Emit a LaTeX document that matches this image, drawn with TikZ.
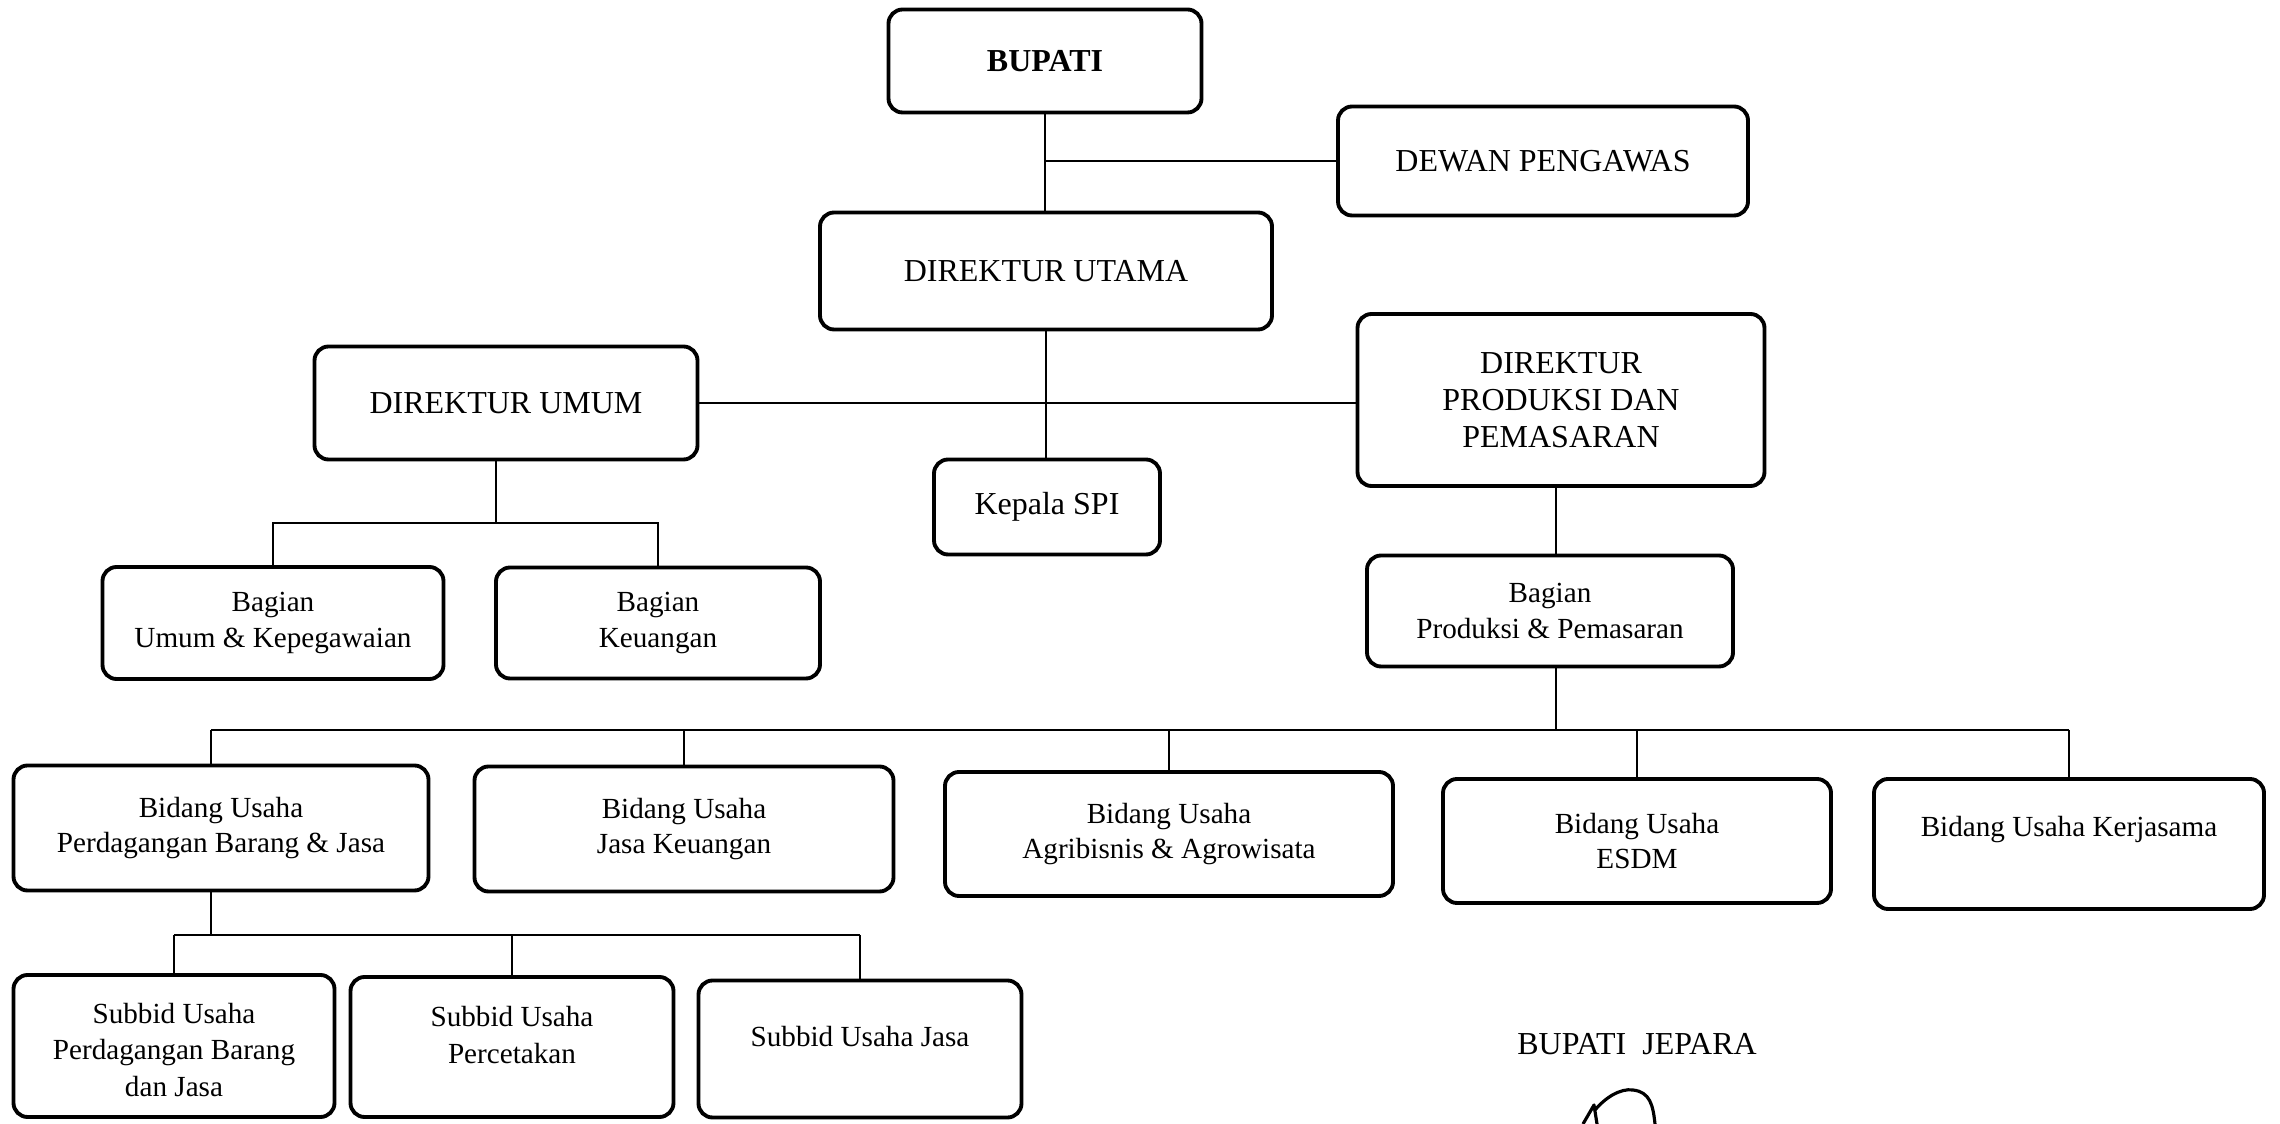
\documentclass[tikz,border=0pt]{standalone}
\usepackage{fontspec}
\setmainfont{Liberation Serif}
\begin{document}
\begin{tikzpicture}[
    box/.style={draw,line width=1.1pt,rounded corners=4pt,align=center,inner sep=2pt},
    big/.style={font=\fontsize{9.1}{10.6}\selectfont},
    small/.style={font=\fontsize{8.3}{10}\selectfont},
    subtext/.style={font=\fontsize{8.3}{10.5}\selectfont,align=center},
    link/.style={line width=0.6pt}]
    \useasboundingbox (0,0) rectangle (22.8,-11.24);
    \node[box,big,minimum width=3.13cm,minimum height=1.03cm] (bupati) at (10.45,-0.61) {\textbf{BUPATI}};
    \node[box,big,minimum width=4.10cm,minimum height=1.09cm] (dewan) at (15.43,-1.61) {DEWAN PENGAWAS};
    \node[box,big,minimum width=4.52cm,minimum height=1.17cm] (dirut) at (10.46,-2.71) {DIREKTUR UTAMA};
    \node[box,big,minimum width=3.83cm,minimum height=1.13cm] (dirumum) at (5.06,-4.03) {DIREKTUR UMUM};
    \node[box,big,minimum width=4.07cm,minimum height=1.72cm] (dirprod) at (15.61,-4.00) {DIREKTUR\\PRODUKSI DAN\\PEMASARAN};
    \node[box,big,minimum width=2.26cm,minimum height=0.95cm] (spi) at (10.47,-5.07) {Kepala SPI};
    \node[box,small,minimum width=3.41cm,minimum height=1.12cm] (bagumum) at (2.73,-6.23) {Bagian\\Umum \& Kepegawaian};
    \node[box,small,minimum width=3.24cm,minimum height=1.11cm] (bagkeu) at (6.58,-6.23) {Bagian\\Keuangan};
    \node[box,small,minimum width=3.66cm,minimum height=1.11cm] (bagprod) at (15.50,-6.11) {Bagian\\Produksi \& Pemasaran};
    \node[box,small,minimum width=4.15cm,minimum height=1.25cm] (bdagang) at (2.21,-8.28) {Bidang Usaha\\Perdagangan Barang \& Jasa};
    \node[box,small,minimum width=4.19cm,minimum height=1.25cm] (bkeu) at (6.84,-8.29) {Bidang Usaha\\Jasa Keuangan};
    \node[box,small,minimum width=4.48cm,minimum height=1.24cm] (bagri) at (11.69,-8.34) {Bidang Usaha\\Agribisnis \& Agrowisata};
    \node[box,small,minimum width=3.88cm,minimum height=1.24cm] (besdm) at (16.37,-8.41) {Bidang Usaha\\ESDM};
    \node[box,minimum width=3.90cm,minimum height=1.30cm] (bkerja) at (20.69,-8.44) {};
    \node[subtext] (bkerjat) at ([yshift=1.4mm]bkerja.center) {Bidang Usaha Kerjasama};
    \node[box,minimum width=3.21cm,minimum height=1.42cm] (sdagang) at (1.74,-10.46) {};
    \node[subtext] (sdagangt) at ([yshift=-0.4mm]sdagang.center) {Subbid Usaha\\Perdagangan Barang\\dan Jasa};
    \node[box,minimum width=3.23cm,minimum height=1.40cm] (scetak) at (5.12,-10.47) {};
    \node[subtext] (scetakt) at ([yshift=1.2mm]scetak.center) {Subbid Usaha\\Percetakan};
    \node[box,minimum width=3.23cm,minimum height=1.37cm] (sjasa) at (8.60,-10.49) {};
    \node[subtext] (sjasat) at ([yshift=1.2mm]sjasa.center) {Subbid Usaha Jasa};
    \node[big] (ttd) at (16.37,-10.44) {BUPATI\ \ JEPARA};
    \coordinate (ju) at (4.96,-5.23);
    \coordinate (jp) at (15.56,-7.30);
    \coordinate (js) at (2.11,-9.35);
    \draw[link] (bupati.south) -- (bupati.south |- dirut.north);
    \draw[link] (bupati.south |- dewan.west) -- (dewan.west);
    \draw[link] (dirut.south) -- (dirut.south |- spi.north);
    \draw[link] (dirumum.east) -- (dirumum.east -| dirprod.west);
    \draw[link] (dirumum.south -| ju) -- (ju);
    \draw[link] (bagumum.north) -- (bagumum.north |- ju) -- (bagkeu.north |- ju) -- (bagkeu.north);
    \draw[link] (dirprod.south -| jp) -- (bagprod.north -| jp);
    \draw[link] (bagprod.south -| jp) -- (jp);
    \draw[link] (js |- jp) -- (bkerja.north |- jp);
    \draw[link] (js |- jp) -- (js |- bdagang.north);
    \foreach \b in {bkeu,bagri,besdm,bkerja}{\draw[link] (\b.north |- jp) -- (\b.north);};
    \draw[link] (bdagang.south -| js) -- (js);
    \draw[link] (sdagang.north |- js) -- (sjasa.north |- js);
    \foreach \s in {sdagang,scetak,sjasa}{\draw[link] (\s.north |- js) -- (\s.north);};
    \draw[line width=0.9pt,line join=round] (15.83,-11.24) -- (15.94,-11.05) -- (15.97,-11.24);
    \draw[line width=0.9pt] (15.95,-11.10) .. controls (16.05,-10.98) and (16.20,-10.88) .. (16.33,-10.90)
        .. controls (16.50,-10.92) and (16.53,-11.05) .. (16.55,-11.24);
  \end{tikzpicture}
\end{document}
